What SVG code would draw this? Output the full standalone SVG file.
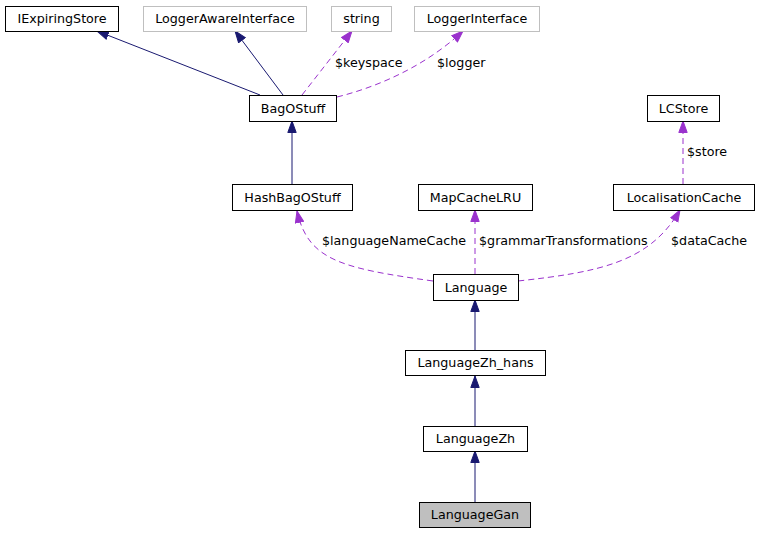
<svg xmlns="http://www.w3.org/2000/svg" width="759" height="533" viewBox="0 0 759 533">
<style>
  .node rect { fill: #ffffff; stroke: #000000; stroke-width: 1; }
  .node.ext rect { stroke: #bfbfbf; }
  .node.cur rect { fill: #bfbfbf; }
  text { font-family: "DejaVu Sans", "Liberation Sans", sans-serif; font-size: 12.7px; fill: #000000; }
  .node text { text-anchor: middle; }
  .inh { fill: none; stroke: #191970; stroke-width: 1; marker-end: url(#ah-navy); }
  .use { fill: none; stroke: #9a32cd; stroke-width: 1; stroke-dasharray: 6,4; marker-end: url(#ah-purple); }
</style>
<defs>
  <marker id="ah-navy" viewBox="0 0 13 10" refX="12" refY="5" markerWidth="13" markerHeight="10" markerUnits="userSpaceOnUse" orient="auto">
    <path d="M0.5,0.8 L12,5 L0.5,9.2 Z" fill="#191970" stroke="#191970" stroke-width="1"/>
  </marker>
  <marker id="ah-purple" viewBox="0 0 13 10" refX="12" refY="5" markerWidth="13" markerHeight="10" markerUnits="userSpaceOnUse" orient="auto">
    <path d="M0.5,0.8 L12,5 L0.5,9.2 Z" fill="#9a32cd" stroke="#9a32cd" stroke-width="1"/>
  </marker>
</defs>
<rect width="759" height="533" fill="#ffffff"/>
<g id="connectors">
  <path class="inh" d="M260,95 L97,31"/>
  <path class="inh" d="M283,95 L235,31"/>
  <path class="use" d="M302,95 L352,31"/>
  <path class="use" d="M337,97 C385,85 430,62 463,31"/>
  <path class="inh" d="M292,184 L292,121"/>
  <path class="use" d="M683,184 L683,121"/>
  <path class="use" d="M433,281 C340,268 308,260 297,211"/>
  <path class="use" d="M475,274 L475,210"/>
  <path class="use" d="M518,281 C600,272 650,262 680,210"/>
  <path class="inh" d="M475,350 L475,300"/>
  <path class="inh" d="M475,426 L475,376"/>
  <path class="inh" d="M475,502 L475,451"/>
  <text x="335" y="67">$keyspace</text>
  <text x="437" y="67">$logger</text>
  <text x="687" y="156">$store</text>
  <text x="322" y="245">$languageNameCache</text>
  <text x="479" y="245">$grammarTransformations</text>
  <text x="671" y="245">$dataCache</text>
</g>
<g id="IExpiringStore" class="node"><rect x="5.5" y="6.5" width="113" height="25"/><text x="62" y="23">IExpiringStore</text></g>
<g id="LoggerAwareInterface" class="node ext"><rect x="143.5" y="6.5" width="163" height="25"/><text x="225" y="23">LoggerAwareInterface</text></g>
<g id="string" class="node ext"><rect x="331.5" y="6.5" width="60" height="25"/><text x="361.5" y="23">string</text></g>
<g id="LoggerInterface" class="node ext"><rect x="414.5" y="6.5" width="125" height="25"/><text x="477" y="23">LoggerInterface</text></g>
<g id="BagOStuff" class="node"><rect x="249.5" y="95.5" width="87" height="26"/><text x="293" y="113">BagOStuff</text></g>
<g id="LCStore" class="node"><rect x="647.5" y="95.5" width="72" height="26"/><text x="683.5" y="113">LCStore</text></g>
<g id="HashBagOStuff" class="node"><rect x="232.5" y="184.5" width="120" height="26"/><text x="292.5" y="202">HashBagOStuff</text></g>
<g id="MapCacheLRU" class="node"><rect x="418.5" y="184.5" width="114" height="26"/><text x="475.5" y="202">MapCacheLRU</text></g>
<g id="LocalisationCache" class="node"><rect x="613.5" y="184.5" width="141" height="26"/><text x="684" y="202">LocalisationCache</text></g>
<g id="Language" class="node"><rect x="433.5" y="274.5" width="85" height="26"/><text x="476" y="292">Language</text></g>
<g id="LanguageZh_hans" class="node"><rect x="405.5" y="350.5" width="140" height="25"/><text x="475.5" y="367">LanguageZh_hans</text></g>
<g id="LanguageZh" class="node"><rect x="423.5" y="426.5" width="104" height="25"/><text x="475.5" y="443">LanguageZh</text></g>
<g id="LanguageGan" class="node cur"><rect x="419.5" y="502.5" width="111" height="25"/><text x="475" y="519">LanguageGan</text></g>
</svg>
